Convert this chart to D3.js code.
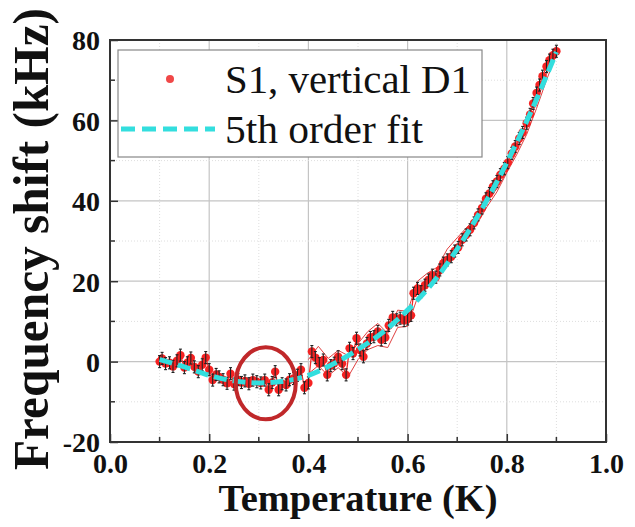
<!DOCTYPE html>
<html>
<head>
<meta charset="utf-8">
<script src="https://cdn.jsdelivr.net/npm/d3@7"></script>
<style>
  body { margin:0; background:#fff; }
  svg { display:block; }
</style>
</head>
<body>
<svg width="635" height="527"></svg>
<script>
  const svgWidth=635;
  const svgHeight=527;

  const margin={
    top:40,
    left:110,
    bottom:85,
    right:29
  }

  const width=svgWidth-(margin.left+margin.right);
  const height=svgHeight-(margin.top+margin.bottom);

  // measured data (S1, vertical D1)
  const temps=[0.100,0.105,0.112,0.120,0.127,0.135,0.142,0.150,0.156,0.163,0.170,0.178,0.186,0.193,0.200,
    0.207,0.214,0.220,0.228,0.236,0.243,0.250,0.258,0.265,0.272,0.280,0.288,0.296,0.304,0.312,0.320,
    0.327,0.333,0.340,0.347,0.355,0.362,0.370,0.378,0.385,0.392,0.400,0.407,0.414,0.422,0.430,0.438,
    0.445,0.452,0.460,0.468,0.476,0.483,0.490,0.497,0.504,0.511,0.518,0.525,0.532,0.540,0.547,0.555,
    0.562,0.570,0.578,0.585,0.593,0.600,0.607,0.612,0.620,0.627,0.635,0.642,0.650,0.657,0.665,0.672,
    0.680,0.688,0.695,0.702,0.710,0.718,0.726,0.734,0.742,0.750,0.758,0.765,0.772,0.780,0.787,0.795,
    0.802,0.810,0.817,0.825,0.832,0.840,0.847,0.853,0.860,0.866,0.872,0.880,0.886,0.893,0.900];
  const shifts=[0.0,0.8,-0.5,-0.3,-1.2,0.2,1.6,-1.5,-0.3,0.9,-1.3,-2.5,-0.8,1.0,-2.0,
    -4.6,-3.2,-3.8,-4.5,-5.4,-3.0,-5.6,-4.5,-5.2,-4.8,-5.5,-4.6,-5.0,-5.3,-4.6,-7.0,
    -5.2,-2.5,-7.0,-5.5,-5.8,-4.5,-4.2,-3.4,-2.0,-6.5,-5.3,2.5,1.0,-0.5,0.4,-3.3,
    -1.0,-0.4,1.2,-0.5,-3.3,3.3,2.0,5.8,2.9,1.2,4.5,6.0,6.2,7.5,5.4,6.0,
    9.0,11.0,10.4,10.8,10.2,10.6,11.5,17.0,18.2,17.4,19.0,20.3,21.5,21.0,22.8,24.5,
    25.3,26.1,27.5,28.4,30.3,31.5,32.8,34.5,36.5,38.2,40.5,41.8,43.5,44.8,46.5,48.0,
    49.5,51.8,53.5,55.5,57.0,59.3,61.5,64.2,66.8,68.8,71.0,73.4,75.0,76.2,77.2];
  const errHalf=1.5;

  // thin red sweeps around the data
  const sweepT=[0.40,0.42,0.44,0.46,0.48,0.50,0.52,0.54,0.56,0.58,0.60,0.62,0.64,0.66,0.68,0.70,0.72,0.74,0.76,0.78,0.80,0.82,0.84,0.86,0.88,0.90];
  const sweepUp=[0.5,3.8,0.8,2.8,1.5,4.5,7.5,9.5,7.0,12.8,12.5,20.0,22.0,23.5,28.0,30.8,33.5,36.0,39.8,43.0,47.2,52.5,57.8,64.5,71.5,78.5];
  const sweepDown=[-3.0,-1.0,-3.5,-1.5,-3.8,0.5,3.0,4.0,3.5,8.5,8.8,16.0,18.8,20.5,24.0,27.5,30.8,34.2,38.5,42.2,47.0,51.5,56.5,63.0,70.0,76.5];

  // 5th order fit
  const fitT=[0.10,0.15,0.20,0.25,0.30,0.35,0.40,0.45,0.50,0.55,0.60,0.65,0.70,0.75,0.80,0.85,0.90];
  const fitY=[0.5,-1.3,-3.4,-4.8,-5.3,-4.9,-3.4,-0.6,3.0,7.3,12.8,19.5,28.0,38.0,49.5,62.5,77.0];

  const xTicks=[0,0.2,0.4,0.6,0.8,1.0];
  const yTicks=[-20,0,20,40,60,80];
  const xMinor=[0.1,0.3,0.5,0.7,0.9];
  const yMinor=[-10,10,30,50,70];

  const data=temps.map((t,i)=>({t:t,v:shifts[i]}));
  const fit=fitT.map((t,i)=>({t:t,v:fitY[i]}));

  const serif="'Liberation Serif', 'Times New Roman', Times, serif";

  const xScale=d3.scaleLinear().domain([0,1]).range([0,width]);
  const yScale=d3.scaleLinear().domain([-20,80]).range([height,0]);

  const svg=d3.select("svg");
  const g=svg.append("g")
      .attr("class","plot")
      .attr("transform",`translate(${margin.left},${margin.top})`);

  // grid
  g.append("g").selectAll("line").data(xTicks.slice(1,-1)).enter().append("line")
      .attr("x1",d=>xScale(d)).attr("x2",d=>xScale(d))
      .attr("y1",0).attr("y2",height)
      .style("stroke","#c4c4c4").style("stroke-width",1.2);
  g.append("g").selectAll("line").data(yTicks.slice(1,-1)).enter().append("line")
      .attr("y1",d=>yScale(d)).attr("y2",d=>yScale(d))
      .attr("x1",0).attr("x2",width)
      .style("stroke","#c4c4c4").style("stroke-width",1.2);
  g.append("g").selectAll("line").data(xMinor).enter().append("line")
      .attr("x1",d=>xScale(d)).attr("x2",d=>xScale(d))
      .attr("y1",0).attr("y2",height)
      .style("stroke","#dedede").style("stroke-dasharray","1,2");
  g.append("g").selectAll("line").data(yMinor).enter().append("line")
      .attr("y1",d=>yScale(d)).attr("y2",d=>yScale(d))
      .attr("x1",0).attr("x2",width)
      .style("stroke","#dedede").style("stroke-dasharray","1,2");

  // axes with inward ticks
  const xAxis=d3.axisBottom(xScale).tickValues(xTicks).tickSize(-8).tickPadding(11).tickFormat(d3.format(".1f"));
  const yAxis=d3.axisLeft(yScale).tickValues(yTicks).tickSize(-8).tickPadding(10).tickFormat(d=>d);

  const gx=g.append("g").attr("class","xAxis").attr("transform",`translate(0,${height})`).call(xAxis);
  const gy=g.append("g").attr("class","yAxis").call(yAxis);
  [gx,gy].forEach(a=>{
    a.select(".domain").remove();
    a.selectAll(".tick line").style("stroke","#333").style("stroke-width",1.5);
    a.selectAll("text")
      .style("font-family",serif)
      .style("font-weight","bold")
      .style("font-size","28px")
      .style("fill","#111");
  });
  gy.selectAll(".tick text").attr("dy","0.35em");

  g.append("g").selectAll("line").data(xMinor).enter().append("line")
      .attr("x1",d=>xScale(d)).attr("x2",d=>xScale(d))
      .attr("y1",height).attr("y2",height-5)
      .style("stroke","#333").style("stroke-width",1.5);
  g.append("g").selectAll("line").data(yMinor).enter().append("line")
      .attr("y1",d=>yScale(d)).attr("y2",d=>yScale(d))
      .attr("x1",0).attr("x2",5)
      .style("stroke","#333").style("stroke-width",1.5);

  // frame
  g.append("rect")
      .attr("width",width).attr("height",height)
      .style("fill","none").style("stroke","#333").style("stroke-width",2);

  const line=d3.line().x(d=>xScale(d.t)).y(d=>yScale(d.v));

  // thin sweeps
  [sweepUp,sweepDown].forEach(s=>{
    g.append("path")
      .datum(sweepT.map((t,i)=>({t:t,v:s[i]})))
      .attr("d",line.curve(d3.curveLinear))
      .style("fill","none").style("stroke","#e04040").style("stroke-width",1);
  });

  g.append("path")
      .datum(data)
      .attr("d",line.curve(d3.curveLinear))
      .style("fill","none").style("stroke","#f02a2a").style("stroke-width",1.3);

  // markers
  g.append("g").selectAll("circle").data(data).enter().append("circle")
      .attr("cx",d=>xScale(d.t)).attr("cy",d=>yScale(d.v))
      .attr("r",4.2)
      .style("fill","#f52222");

  // error bars
  const eb=g.append("g").selectAll("g").data(data).enter().append("g");
  eb.append("line")
      .attr("x1",d=>xScale(d.t)).attr("x2",d=>xScale(d.t))
      .attr("y1",d=>yScale(d.v-errHalf)).attr("y2",d=>yScale(d.v+errHalf))
      .style("stroke","#222").style("stroke-width",1.1);
  [-errHalf,errHalf].forEach(e=>{
    eb.append("line")
      .attr("x1",d=>xScale(d.t)-1.5).attr("x2",d=>xScale(d.t)+1.5)
      .attr("y1",d=>yScale(d.v+e)).attr("y2",d=>yScale(d.v+e))
      .style("stroke","#222").style("stroke-width",1.1);
  });

  // fit
  g.append("path")
      .datum(fit)
      .attr("d",line.curve(d3.curveMonotoneX))
      .style("fill","none").style("stroke","#33dede")
      .style("stroke-width",5).style("stroke-dasharray","13,6");

  // annotation circle
  g.append("ellipse")
      .attr("cx",xScale(0.314)).attr("cy",yScale(-5.4))
      .attr("rx",30).attr("ry",36)
      .style("fill","none").style("stroke","#c0282a").style("stroke-width",4);

  // legend
  const lg=svg.append("g").attr("class","legend");
  lg.append("rect")
      .attr("x",118).attr("y",50).attr("width",364).attr("height",107)
      .style("fill","#fff").style("stroke","#888").style("stroke-width",1.2);
  lg.append("circle").attr("cx",170).attr("cy",79).attr("r",4).style("fill","#f04848");
  lg.append("line").attr("x1",121).attr("x2",215).attr("y1",129).attr("y2",129)
      .style("stroke","#33dede").style("stroke-width",5).style("stroke-dasharray","14,7");
  const legText=["S1, vertical D1","5th order fit"];
  const legLen=[246,198];
  lg.selectAll("text").data(legText).enter().append("text")
      .attr("x",225).attr("y",(d,i)=>93+i*50)
      .attr("textLength",(d,i)=>legLen[i])
      .attr("lengthAdjust","spacingAndGlyphs")
      .text(d=>d)
      .style("font-family",serif)
      .style("font-size","40px")
      .style("fill","#111");

  // axis titles
  svg.append("text")
      .text("Temperature (K)")
      .attr("x",margin.left+width/2)
      .attr("y",511)
      .attr("text-anchor","middle")
      .attr("textLength",279)
      .attr("lengthAdjust","spacingAndGlyphs")
      .style("font-family",serif)
      .style("font-weight","bold")
      .style("font-size","37px")
      .style("fill","#111");

  svg.append("text")
      .text("Frequency shift (kHz)")
      .attr("transform","translate(48,239) rotate(-90)")
      .attr("text-anchor","middle")
      .attr("textLength",462)
      .attr("lengthAdjust","spacingAndGlyphs")
      .style("font-family",serif)
      .style("font-weight","bold")
      .style("font-size","50px")
      .style("fill","#111");
</script>
</body>
</html>
